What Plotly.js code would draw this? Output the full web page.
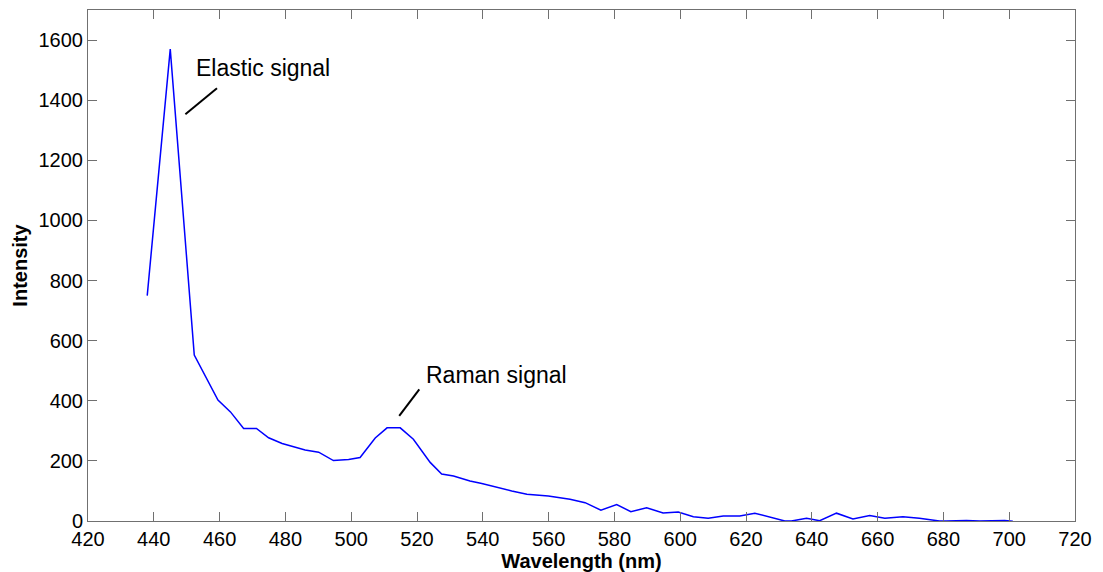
<!DOCTYPE html>
<html>
<head>
<meta charset="utf-8">
<script src="https://cdn.plot.ly/plotly-3.0.1.min.js"></script>
<style>html,body{margin:0;padding:0;background:#fff;}#chart{width:1103px;height:572px;}</style>
</head>
<body>
<div id="chart"></div>
<script>
const wavelength = [438, 445, 452.3, 459.5, 463.3, 467.3, 471.2, 474.9, 479.0, 486.0, 490.1, 494.6, 499.2, 502.7, 507.3, 510.9, 514.9, 518.9, 524.0, 527.5, 531.1, 536.1, 539.7, 545.3, 548.8, 553.4, 559.9, 566.5, 571.1, 575.9, 580.7, 585.0, 589.8, 594.8, 599.4, 604.0, 608.5, 613.1, 618.1, 622.7, 626.7, 631.8, 633.8, 638.4, 642.4, 647.5, 652.5, 657.6, 662.2, 667.7, 672.7, 678.8, 680.9, 687.0, 691.0, 695.0, 698.6, 701.1];
const intensity = [750, 1570, 552, 402, 363, 308, 308, 277, 258, 236, 229, 201, 205, 211, 276, 310, 310, 272, 195, 156, 150, 133, 125, 109, 100, 89, 83, 72, 61, 36, 55, 31, 44, 27, 30, 14, 9, 17, 17, 26, 14, 0, 0, 9, 1, 26, 7, 18, 9, 14, 9, 0, 0, 2, 0, 0, 2, -1];

const xTicks = [420, 440, 460, 480, 500, 520, 540, 560, 580, 600, 620, 640, 660, 680, 700, 720];
const yTicks = [0, 200, 400, 600, 800, 1000, 1200, 1400, 1600];

const labelTexts = ["Elastic signal", "Raman signal"];
const labelX = [452.3, 522.2];
const labelY = [1508, 487];
const pointerX0 = [449.6, 514.6];
const pointerY0 = [1353, 350];
const pointerX1 = [459.2, 520.7];
const pointerY1 = [1440, 438];

const axisColor = '#707070';
const tickFont = {family: 'Liberation Sans, Arial, sans-serif', size: 20, color: '#000'};
const titleFont = {family: 'Liberation Sans, Arial, sans-serif', size: 20, color: '#000', weight: 'bold'};

const trace = {
  x: wavelength, y: intensity, type: 'scatter', mode: 'lines',
  line: {color: '#0000ff', width: 1.5}, hoverinfo: 'skip'
};

const annotations = labelTexts.map((t, i) => ({
  x: labelX[i], y: labelY[i], xref: 'x', yref: 'y', text: t, showarrow: false,
  xanchor: 'left', yanchor: 'middle',
  font: {family: 'Liberation Sans, Arial, sans-serif', size: 23, color: '#000'}
}));
const shapes = labelTexts.map((t, i) => ({
  type: 'line', xref: 'x', yref: 'y',
  x0: pointerX0[i], y0: pointerY0[i], x1: pointerX1[i], y1: pointerY1[i],
  line: {color: '#000', width: 2}
}));

const layout = {
  width: 1103, height: 572,
  margin: {l: 88, r: 28, t: 10, b: 51},
  paper_bgcolor: '#fff', plot_bgcolor: '#fff',
  showlegend: false,
  xaxis: {
    range: [420, 720], tickvals: xTicks, ticktext: xTicks.map(String),
    ticks: 'inside', ticklen: 9, tickcolor: axisColor, tickwidth: 1,
    showline: true, linecolor: axisColor, linewidth: 1, mirror: 'ticks',
    showgrid: false, zeroline: false, tickfont: tickFont,
    title: {text: 'Wavelength (nm)', font: titleFont, standoff: 1}
  },
  yaxis: {
    range: [0, 1700], tickvals: yTicks, ticktext: yTicks.map(String),
    ticks: 'inside', ticklen: 9, tickcolor: axisColor, tickwidth: 1,
    showline: true, linecolor: axisColor, linewidth: 1, mirror: 'ticks',
    showgrid: false, zeroline: false, tickfont: tickFont,
    title: {text: 'Intensity', font: titleFont, standoff: 5}
  },
  annotations: annotations,
  shapes: shapes
};

Plotly.newPlot('chart', [trace], layout, {displayModeBar: false, staticPlot: true});
</script>
</body>
</html>
